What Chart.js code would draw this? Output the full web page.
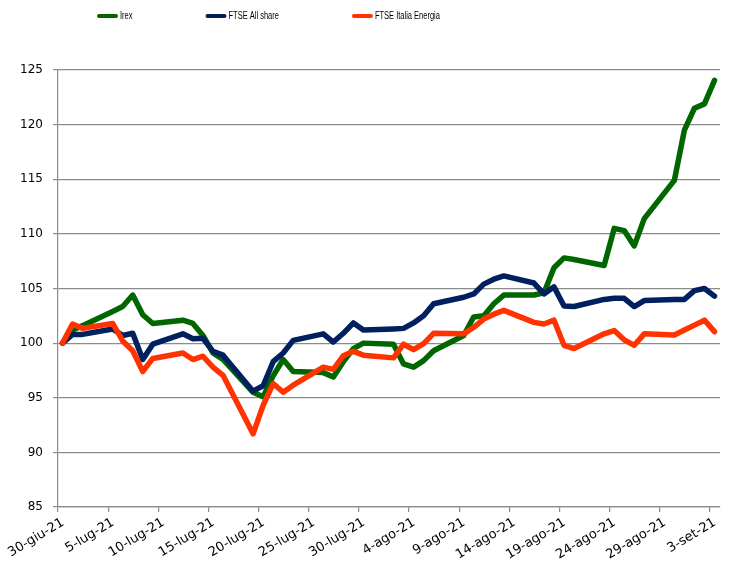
<!DOCTYPE html>
<html>
<head>
<meta charset="utf-8">
<script src="https://cdn.jsdelivr.net/npm/chart.js@4/dist/chart.umd.min.js"></script>
<style>
  html, body { margin: 0; padding: 0; background: #fff; }
  #wrap { width: 738px; height: 579px; }
</style>
</head>
<body>
<div id="wrap"><canvas id="irex-chart"></canvas></div>
<script>
// trading days
const dates = [
  '2021-06-30', '2021-07-01', '2021-07-02', '2021-07-05', '2021-07-06', '2021-07-07', '2021-07-08', '2021-07-09',
  '2021-07-12', '2021-07-13', '2021-07-14', '2021-07-15', '2021-07-16', '2021-07-19', '2021-07-20', '2021-07-21',
  '2021-07-22', '2021-07-23', '2021-07-26', '2021-07-27', '2021-07-28', '2021-07-29', '2021-07-30', '2021-08-02',
  '2021-08-03', '2021-08-04', '2021-08-05', '2021-08-06', '2021-08-09', '2021-08-10', '2021-08-11', '2021-08-12',
  '2021-08-13', '2021-08-16', '2021-08-17', '2021-08-18', '2021-08-19', '2021-08-20', '2021-08-23', '2021-08-24',
  '2021-08-25', '2021-08-26', '2021-08-27', '2021-08-30', '2021-08-31', '2021-09-01', '2021-09-02', '2021-09-03'
];

const irex = [
  100, 101.2, 101.6, 102.9, 103.35, 104.4, 102.6, 101.8,
  102.1, 101.8, 100.7, 99.1, 98.5, 95.5, 95.1, 97.0,
  98.5, 97.4, 97.3, 96.9, 98.3, 99.5, 100.0, 99.9,
  98.1, 97.8, 98.4, 99.3, 100.7, 102.4, 102.5, 103.6,
  104.4, 104.4, 104.6, 106.9, 107.8, 107.65, 107.1, 110.5,
  110.3, 108.9, 111.4, 114.9, 119.5, 121.5, 121.9, 124.05
];

const ftseAll = [
  100, 100.8, 100.8, 101.3, 100.7, 100.9, 98.5, 99.9,
  100.85, 100.4, 100.45, 99.25, 98.9, 95.6, 96.1, 98.3,
  99.1, 100.25, 100.85, 100.1, 100.9, 101.85, 101.2, 101.3,
  101.35, 101.85, 102.5, 103.6, 104.2, 104.5, 105.4, 105.85,
  106.15, 105.5, 104.5, 105.15, 103.4, 103.35, 104.0, 104.1,
  104.1, 103.35, 103.9, 104.0, 104.0, 104.8, 105.0, 104.3
];

const ftseEnergia = [
  100, 101.75, 101.35, 101.8, 100.2, 99.3, 97.4, 98.6,
  99.1, 98.5, 98.8, 97.8, 97.05, 91.7, 94.3, 96.3,
  95.5, 96.15, 97.8, 97.6, 98.85, 99.25, 98.9, 98.65,
  99.9, 99.4, 99.95, 100.9, 100.85, 101.45, 102.2, 102.65,
  103.0, 101.9, 101.75, 102.1, 99.8, 99.5, 100.85, 101.15,
  100.3, 99.8, 100.85, 100.75, 101.2, 101.65, 102.1, 101.05
];

const xTickLabels = [
  '30-giu-21', '5-lug-21', '10-lug-21', '15-lug-21', '20-lug-21', '25-lug-21', '30-lug-21',
  '4-ago-21', '9-ago-21', '14-ago-21', '19-ago-21', '24-ago-21', '29-ago-21', '3-set-21'
];

const t0 = Date.parse(dates[0]);
const dayOf = d => Math.round((Date.parse(d) - t0) / 86400000);
const toPoints = vals => vals.map((v, i) => ({ x: dayOf(dates[i]), y: v }));

// legend drawn at the top, line samples + narrow labels
const topLegend = {
  id: 'topLegend',
  afterDraw(chart) {
    const ctx = chart.ctx;
    const squeeze = 0.75;
    ctx.save();
    ctx.font = '10px "Liberation Sans", Arial, sans-serif';
    ctx.textBaseline = 'middle';
    let x = 97;
    const y = 16;
    chart.data.datasets.forEach(ds => {
      ctx.strokeStyle = ds.borderColor;
      ctx.lineWidth = 4;
      ctx.lineCap = 'round';
      ctx.beginPath();
      ctx.moveTo(x + 2, y);
      ctx.lineTo(x + 19, y);
      ctx.stroke();
      ctx.save();
      ctx.translate(x + 23, y);
      ctx.scale(squeeze, 1);
      ctx.fillStyle = '#000';
      ctx.fillText(ds.label, 0, 0);
      ctx.restore();
      x += 23 + ctx.measureText(ds.label).width * squeeze + 73;
    });
    ctx.restore();
  }
};

const lineStyle = {
  borderWidth: 5.5,
  pointRadius: 0,
  tension: 0,
  borderJoinStyle: 'round',
  borderCapStyle: 'round',
  fill: false
};

const ctx = document.getElementById('irex-chart').getContext('2d');
const irexChart = new Chart(ctx, {
  type: 'line',
  data: {
    datasets: [
      { label: 'Irex', data: toPoints(irex), borderColor: '#006600', backgroundColor: '#006600', order: 3, ...lineStyle },
      { label: 'FTSE All share', data: toPoints(ftseAll), borderColor: '#00205f', backgroundColor: '#00205f', order: 2, ...lineStyle },
      { label: 'FTSE Italia Energia', data: toPoints(ftseEnergia), borderColor: '#ff3300', backgroundColor: '#ff3300', order: 1, ...lineStyle }
    ]
  },
  options: {
    responsive: true,
    maintainAspectRatio: false,
    animation: false,
    layout: {
      padding: { left: 0, right: 18, top: 70, bottom: 0 }
    },
    scales: {
      x: {
        type: 'linear',
        min: -0.45,
        max: 65.55,
        afterBuildTicks: scale => {
          scale.ticks = xTickLabels.map((l, i) => ({ value: i * 5 - 0.45 }));
        },
        afterFit: scale => { scale.height = 72; },
        grid: {
          drawOnChartArea: false,
          drawTicks: true,
          tickLength: 5,
          color: '#8c8c8c',
          lineWidth: 1.2
        },
        border: { display: true, color: '#8c8c8c', width: 1.2 },
        ticks: {
          autoSkip: false,
          minRotation: 31,
          maxRotation: 31,
          padding: 3,
          labelOffset: 5,
          color: '#000',
          font: { family: 'DejaVu Sans', size: 13 },
          callback: (v, i) => xTickLabels[i]
        }
      },
      y: {
        min: 85,
        max: 125,
        afterFit: scale => { scale.width = 58; },
        grid: {
          color: '#8c8c8c',
          lineWidth: 1.2,
          tickLength: 5
        },
        border: { display: true, color: '#8c8c8c', width: 1.2 },
        ticks: {
          stepSize: 5,
          padding: 10,
          color: '#000',
          font: { family: 'DejaVu Sans', size: 12 }
        }
      }
    },
    plugins: {
      legend: { display: false },
      tooltip: { enabled: false }
    }
  },
  plugins: [topLegend]
});
</script>
</body>
</html>
